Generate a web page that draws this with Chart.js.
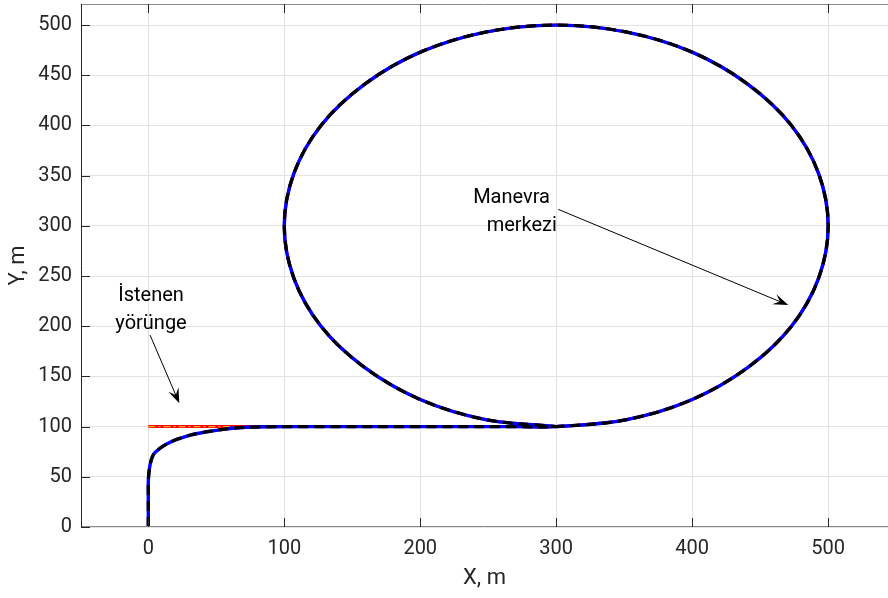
<!DOCTYPE html>
<html>
<head>
<meta charset="utf-8">
<script src="https://cdn.jsdelivr.net/npm/chart.js@4"></script>
<style>
  html, body { margin: 0; padding: 0; background: #fff; }
  #wrap { width: 888px; height: 598px; }
</style>
</head>
<body>
<div id="wrap"><canvas id="trajChart" width="888" height="598"></canvas></div>
<script>
// maneuver loop (starts and ends at the bottom point)
const loopX = [300, 352, 400, 441, 473, 493, 500, 493, 473, 441, 400, 352, 300, 248, 200, 159, 127, 107, 100, 107, 127, 159, 200, 248, 300];
const loopY = [100, 107, 127, 159, 200, 248, 300, 352, 400, 441, 473, 493, 500, 493, 473, 441, 400, 352, 300, 248, 200, 159, 127, 107, 100];

// desired straight leg before the loop
const refLegX = [0, 100, 200, 270];
const refLegY = [100, 100, 100, 100];

// flown path from the origin up onto the leg
const pathLegX = [0, 0, 0, 0.3, 1.3, 3.7, 8.6, 13.5, 21, 31, 43, 55, 67, 87, 120, 200, 270];
const pathLegY = [0, 25, 45, 52, 62, 72, 78.4, 82.7, 87.3, 91.6, 94.9, 97.3, 98.9, 99.8, 100, 100, 100];

const xTicks = [0, 100, 200, 300, 400, 500];
const yTicks = [0, 50, 100, 150, 200, 250, 300, 350, 400, 450, 500];

// annotation texts (data units) and their arrows
const noteLines = [
    { text: 'Manevra', x: 295.4, y: 322.7, align: 'right' },
    { text: 'merkezi', x: 300.5, y: 294.8, align: 'right' },
    { text: 'İstenen', x: 2, y: 225, align: 'center' },
    { text: 'yörünge', x: 2, y: 197.2, align: 'center' }
];
const noteArrows = [
    { x0: 301.5, y0: 316.4, x1: 470.6, y1: 221.1 },
    { x0: 1.3, y0: 191.2, x1: 22.8, y1: 123.2 }
];

const FONT = 'Roboto, "Liberation Sans", Arial, sans-serif';
const INK = '#262626';

function toPoints(xs, ys) {
    return xs.map((x, i) => ({ x: x, y: ys[i] }));
}

const refPoints = toPoints(refLegX.concat(loopX), refLegY.concat(loopY));
const pathPoints = toPoints(pathLegX.concat(loopX), pathLegY.concat(loopY));

// axes frame and inward tick marks, MATLAB style
const framePlugin = {
    id: 'frame',
    afterDraw(chart) {
        const { ctx, chartArea: a, scales: { x, y } } = chart;
        ctx.save();
        ctx.lineWidth = 1;
        ctx.strokeStyle = '#8a8a8a';
        ctx.beginPath();
        ctx.moveTo(a.left, a.top + 0.5);
        ctx.lineTo(a.right, a.top + 0.5);
        ctx.moveTo(a.left, a.bottom - 0.5);
        ctx.lineTo(a.right, a.bottom - 0.5);
        ctx.stroke();

        ctx.strokeStyle = INK;
        ctx.beginPath();
        ctx.moveTo(a.left + 0.5, a.top);
        ctx.lineTo(a.left + 0.5, a.bottom);
        yTicks.forEach(v => {
            const py = Math.round(y.getPixelForValue(v)) + 0.5;
            ctx.moveTo(a.left, py);
            ctx.lineTo(a.left + 9, py);
        });
        xTicks.forEach(v => {
            const px = Math.round(x.getPixelForValue(v)) + 0.5;
            ctx.moveTo(px, a.bottom);
            ctx.lineTo(px, a.bottom - 9);
            ctx.moveTo(px, a.top);
            ctx.lineTo(px, a.top + 9);
        });
        ctx.stroke();
        ctx.restore();
    }
};

const notesPlugin = {
    id: 'notes',
    afterDraw(chart) {
        const { ctx, scales: { x, y } } = chart;
        ctx.save();
        ctx.fillStyle = '#000';
        ctx.font = '20px ' + FONT;
        ctx.textBaseline = 'alphabetic';
        noteLines.forEach(n => {
            ctx.textAlign = n.align;
            ctx.fillText(n.text, x.getPixelForValue(n.x), y.getPixelForValue(n.y));
        });

        ctx.strokeStyle = '#000';
        ctx.lineWidth = 1;
        noteArrows.forEach(ar => {
            const sx = x.getPixelForValue(ar.x0), sy = y.getPixelForValue(ar.y0);
            const ex = x.getPixelForValue(ar.x1), ey = y.getPixelForValue(ar.y1);
            const len = Math.hypot(ex - sx, ey - sy);
            const ux = (ex - sx) / len, uy = (ey - sy) / len;
            const nx = -uy, ny = ux;
            const L = 15, W = 5.5;
            ctx.beginPath();
            ctx.moveTo(sx, sy);
            ctx.lineTo(ex - ux * 8, ey - uy * 8);
            ctx.stroke();
            ctx.beginPath();
            ctx.moveTo(ex, ey);
            ctx.lineTo(ex - ux * L + nx * W, ey - uy * L + ny * W);
            ctx.lineTo(ex - ux * L * 0.6, ey - uy * L * 0.6);
            ctx.lineTo(ex - ux * L - nx * W, ey - uy * L - ny * W);
            ctx.closePath();
            ctx.fill();
        });
        ctx.restore();
    }
};

const ctx = document.getElementById('trajChart').getContext('2d');
new Chart(ctx, {
    type: 'scatter',
    data: {
        datasets: [
            {
                label: 'Gerçek yörünge (kesikli)',
                data: pathPoints,
                showLine: true,
                borderColor: '#000000',
                borderWidth: 3.2,
                borderDash: [10, 6],
                pointRadius: 0,
                tension: 0.34,
                order: 1
            },
            {
                label: 'Gerçek yörünge',
                data: pathPoints,
                showLine: true,
                borderColor: '#0000ff',
                borderWidth: 3.4,
                pointRadius: 0,
                tension: 0.34,
                order: 2
            },
            {
                label: 'İstenen yörünge (iz)',
                data: refPoints,
                showLine: true,
                borderColor: '#EDB120',
                borderWidth: 1.3,
                borderDash: [7, 3, 2, 3],
                pointRadius: 0,
                tension: 0.34,
                order: 3
            },
            {
                label: 'İstenen yörünge',
                data: refPoints,
                showLine: true,
                borderColor: '#ff0000',
                borderWidth: 3,
                pointRadius: 0,
                tension: 0.34,
                order: 4
            }
        ]
    },
    options: {
        responsive: false,
        animation: false,
        layout: { padding: { top: 4, right: 0, left: 0, bottom: 0 } },
        plugins: {
            legend: { display: false },
            tooltip: { enabled: false }
        },
        scales: {
            x: {
                type: 'linear',
                min: -49.5,
                max: 544,
                afterBuildTicks: s => { s.ticks = xTicks.map(v => ({ value: v })); },
                afterFit: s => { s.height = 71; s.paddingLeft = 0; s.paddingRight = 0; },
                grid: { color: '#e3e3e3', drawTicks: false },
                border: { display: false },
                ticks: { color: INK, font: { family: FONT, size: 20 }, padding: 10, maxRotation: 0 },
                title: { display: true, text: 'X, m', color: INK, font: { family: FONT, size: 22 }, padding: { bottom: 6 } }
            },
            y: {
                type: 'linear',
                min: 0,
                max: 521,
                afterBuildTicks: s => { s.ticks = yTicks.map(v => ({ value: v })); },
                afterFit: s => { s.width = 81; s.paddingTop = 0; s.paddingBottom = 0; },
                grid: { color: '#e3e3e3', drawTicks: false },
                border: { display: false },
                ticks: { color: INK, font: { family: FONT, size: 20 }, padding: 9 },
                title: { display: true, text: 'Y, m', color: INK, font: { family: FONT, size: 22 }, padding: { top: 5 } }
            }
        }
    },
    plugins: [framePlugin, notesPlugin]
});
</script>
</body>
</html>
